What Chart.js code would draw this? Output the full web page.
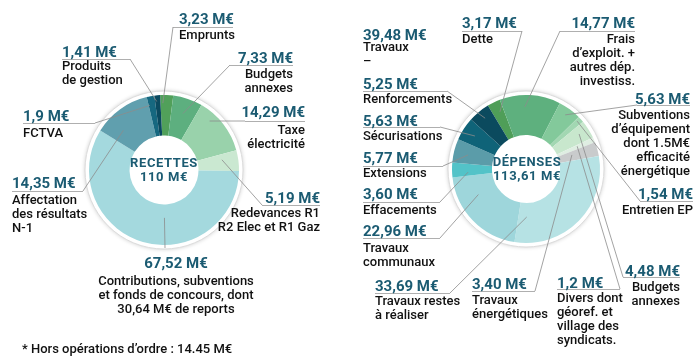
<!DOCTYPE html>
<html>
<head>
<meta charset="utf-8">
<script src="https://cdn.jsdelivr.net/npm/chart.js@4.4.1/dist/chart.umd.min.js"></script>
<style>
  body { margin: 0; background: #fff; }
  #wrap { position: relative; width: 700px; height: 360px; overflow: hidden; font-family: Roboto, "Noto Sans", sans-serif; }
  #wrap canvas { position: absolute; left: 0; top: 0; }
  .val, .txt, .mid { position: absolute; white-space: pre; }
  .val { font-weight: 700; font-size: 15px; line-height: 16px; color: #1b5b72; }
  .txt { font-size: 13px; font-weight: 500; line-height: 14px; color: #111; }
  .mid { font-weight: 700; font-size: 13px; line-height: 14px; color: #1b5b72; letter-spacing: 0.6px; text-align: center; transform: translateX(-50%); }
</style>
</head>
<body>
<div id="wrap">
  <canvas id="recettesChart" width="700" height="360"></canvas>
  <canvas id="depensesChart" width="700" height="360"></canvas>
</div>
<script>
// Recettes (left donut)
const recettesCategories = ['Emprunts', 'Budgets\nannexes', 'Taxe\nélectricité', 'Redevances R1\nR2 Elec et R1 Gaz',
  'Contributions, subventions\net fonds de concours, dont\n30,64 M€ de reports', 'Affectation\ndes résultats\nN-1', 'FCTVA', 'Produits\nde gestion'];
const recettesValues = [3.23, 7.33, 14.29, 5.19, 67.52, 14.35, 1.9, 1.41];
const recettesAmounts = ['3,23 M€', '7,33 M€', '14,29 M€', '5,19 M€', '67,52 M€', '14,35 M€', '1,9 M€', '1,41 M€'];
const recettesColors = ['#51a05a', '#5daf7f', '#99d2ab', '#cae8d1', '#a4d9de', '#609fae', '#166880', '#0b4a60'];

// Dépenses (right donut)
const depensesCategories = ['Dette', 'Frais\nd\u2019exploit. +\nautres dép.\ninvestiss.', 'Subventions\nd\u2019équipement\ndont 1.5M€\nefficacité\nénergétique',
  'Entretien EP', 'Budgets\nannexes', 'Divers dont\ngéoref. et\nvillage des\nsyndicats.', 'Travaux\nénergétiques', 'Travaux restes\nà réaliser',
  'Travaux\ncommunaux', 'Effacements', 'Extensions', 'Sécurisations', 'Renforcements'];
const depensesValues = [3.17, 14.77, 5.63, 1.54, 4.48, 1.2, 3.40, 33.69, 22.96, 3.60, 5.77, 5.63, 5.25];
const depensesAmounts = ['3,17 M€', '14,77 M€', '5,63 M€', '1,54 M€', '4,48 M€', '1,2 M€', '3,40 M€', '33,69 M€',
  '22,96 M€', '3,60 M€', '5,77 M€', '5,63 M€', '5,25 M€'];
const depensesColors = ['#4f9e58', '#5eb07e', '#83c99b', '#a2d7b2', '#c8e7cd', '#dfeee2', '#c9cbcc', '#b6e2e4',
  '#9ed6db', '#53c3c8', '#5b9ca9', '#0f6378', '#0b4a5e'];

// Travaux group header (no slice of its own)
const travauxAmount = '39,48 M€';
const travauxCategory = 'Travaux\n\u2013';

// label placement: value top, label top, alignment, underline [x1, x2, y],
// leader end on the label side, and where the leader touches the slice (t = along the arc, f = across the ring)
const recettesPlacement = [
  { x: 179, y: 11, ly: 28, align: 'left', ul: [173, 233, 27], end: [173, 27], t: 0.2, f: 0.8 },
  { x: 293, y: 50, ly: 67, align: 'right', ul: [230, 293, 65], end: [230, 65], t: 0.5, f: 0.62 },
  { x: 305, y: 104, ly: 123, align: 'right', ul: [245, 305, 121], end: [245, 121], t: 0.29, f: 0.8 },
  { x: 320, y: 190, ly: 206, align: 'right', ul: [262, 320, 205], end: [262, 205], t: 0.33, f: 0.6 },
  { x: 176, y: 255, ly: 274, align: 'center', ul: null, end: [165, 248], t: 0.42, f: 0.33 },
  { x: 12, y: 175, ly: 193, align: 'left', ul: [12, 83, 191], end: [83, 191], t: 0.28, f: 0.55 },
  { x: 23, y: 108, ly: 126, align: 'left', ul: [23, 95, 123], end: [95, 123], t: 0.15, f: 0.78 },
  { x: 62, y: 44, ly: 59, align: 'left', ul: [62, 130, 59], end: [130, 59], t: 0.3, f: 0.85 }
];
const depensesPlacement = [
  { x: 462, y: 15, ly: 32, align: 'left', ul: [462, 522, 31], end: [522, 31], t: 0.63, f: 0.72 },
  { x: 635, y: 15, ly: 32, align: 'right', ul: [560, 635, 31], end: [560, 31], t: 0.41, f: 0.7 },
  { x: 690, y: 91, ly: 108, align: 'right', ul: [637, 690, 105], end: [637, 105], t: 0.48, f: 0.82 },
  { x: 693, y: 186, ly: 203, align: 'right', ul: [640, 693, 201], end: [640, 201], t: 0.3, f: 0.9 },
  { x: 680, y: 263, ly: 280, align: 'right', ul: [623, 680, 277], end: [623, 277], t: 0.43, f: 0.74 },
  { x: 557, y: 275, ly: 291, align: 'left', ul: [557, 620, 289], end: [620, 289], t: 0.3, f: 0.55 },
  { x: 472, y: 276, ly: 293, align: 'left', ul: [472, 535, 291], end: [535, 291], t: 0.38, f: 0.35 },
  { x: 375, y: 278, ly: 294, align: 'left', ul: [375, 450, 293], end: [450, 293], t: 0.91, f: 0.35 },
  { x: 363, y: 223, ly: 241, align: 'left', ul: [363, 440, 238], end: [440, 238], t: 0.71, f: 0.5 },
  { x: 363, y: 186, ly: 203, align: 'left', ul: [363, 440, 202], end: [440, 202], t: 0.3, f: 0.6 },
  { x: 363, y: 150, ly: 166, align: 'left', ul: [363, 443, 166], end: [443, 166], t: 0.46, f: 0.64 },
  { x: 363, y: 113, ly: 129, align: 'left', ul: [363, 440, 127], end: [440, 127], t: 0.5, f: 0.67 },
  { x: 363, y: 76, ly: 92, align: 'left', ul: [363, 447, 91], end: [447, 91], t: 0.54, f: 0.78 }
];

const wrap = document.getElementById('wrap');

/**
 * Put one text block on the page, aligned left, right or centred on x
 */
function addText(cls, text, x, y, align) {
  const el = document.createElement('div');
  el.className = cls;
  el.textContent = text;
  el.style.top = y + 'px';
  if (align === 'right') {
    el.style.right = (700 - x) + 'px';
    el.style.textAlign = 'right';
  } else if (align === 'center') {
    el.style.left = x + 'px';
    el.style.textAlign = 'center';
    el.style.transform = 'translateX(-50%)';
  } else {
    el.style.left = x + 'px';
  }
  wrap.appendChild(el);
  return el;
}

function addLabels(amounts, categories, placement) {
  placement.forEach((p, i) => {
    addText('val', amounts[i], p.x, p.y, p.align);
    addText('txt', categories[i], p.x, p.ly, p.align);
  });
}

// White halo with a soft shadow round the donut
const haloPlugin = {
  id: 'halo',
  beforeDatasetsDraw(chart) {
    const arc = chart.getDatasetMeta(0).data[0];
    if (!arc) return;
    const { x, y, outerRadius } = arc.getProps(['x', 'y', 'outerRadius'], true);
    const ctx = chart.ctx;
    ctx.save();
    ctx.beginPath();
    ctx.arc(x, y, outerRadius + 4, 0, Math.PI * 2);
    ctx.fillStyle = '#fff';
    ctx.shadowColor = 'rgba(0, 0, 0, 0.22)';
    ctx.shadowBlur = 4;
    ctx.fill();
    ctx.shadowColor = 'transparent';
    ctx.strokeStyle = '#dcdcdc';
    ctx.lineWidth = 1;
    ctx.stroke();
    ctx.restore();
  }
};

// Leader lines from each slice to its label, plus the rule under the amount
function leaderPlugin(placement) {
  return {
    id: 'leaders',
    afterDatasetsDraw(chart) {
      const ctx = chart.ctx;
      const arcs = chart.getDatasetMeta(0).data;
      ctx.save();
      ctx.lineWidth = 0.8;
      placement.forEach((p, i) => {
        const { x, y, startAngle, endAngle, innerRadius, outerRadius } =
          arcs[i].getProps(['x', 'y', 'startAngle', 'endAngle', 'innerRadius', 'outerRadius'], true);
        const a = startAngle + (endAngle - startAngle) * p.t;
        const r = innerRadius + (outerRadius - innerRadius) * p.f;
        ctx.strokeStyle = '#8c8c8c';
        ctx.beginPath();
        ctx.moveTo(x + r * Math.cos(a), y + r * Math.sin(a));
        ctx.lineTo(p.end[0], p.end[1]);
        ctx.stroke();
        if (p.ul) {
          ctx.strokeStyle = '#9a9a9a';
          ctx.beginPath();
          ctx.moveTo(p.ul[0], p.ul[2] + 0.5);
          ctx.lineTo(p.ul[1], p.ul[2] + 0.5);
          ctx.stroke();
        }
      });
      ctx.restore();
    }
  };
}

function makeDonut(canvasId, values, colors, rotation, padding, placement) {
  return new Chart(document.getElementById(canvasId), {
    type: 'doughnut',
    data: {
      labels: values.map((v, i) => String(i)),
      datasets: [{
        data: values,
        backgroundColor: colors,
        borderWidth: 0,
        hoverOffset: 0
      }]
    },
    options: {
      responsive: false,
      animation: false,
      cutout: '46%',
      rotation: rotation,
      layout: { padding: padding },
      events: [],
      plugins: {
        legend: { display: false },
        tooltip: { enabled: false }
      }
    },
    plugins: [haloPlugin, leaderPlugin(placement)]
  });
}

makeDonut('recettesChart', recettesValues, recettesColors, -3,
  { left: 89, right: 461, top: 95, bottom: 115 }, recettesPlacement);
makeDonut('depensesChart', depensesValues, depensesColors, -31,
  { left: 452, right: 100, top: 95, bottom: 117 }, depensesPlacement);

addLabels(recettesAmounts, recettesCategories, recettesPlacement);
addLabels(depensesAmounts, depensesCategories, depensesPlacement);

// Travaux group header
addText('val', travauxAmount, 363, 27, 'left');
addText('txt', travauxCategory, 363, 40, 'left');

// Centre titles
addText('mid', 'RECETTES\n110 M€', 164, 156, 'center');
addText('mid', 'DÉPENSES\n113,61 M€', 527, 155, 'center');

// Footnote
addText('txt', '* Hors opérations d\u2019ordre : 14.45 M€', 22, 342, 'left');
</script>
</body>
</html>
